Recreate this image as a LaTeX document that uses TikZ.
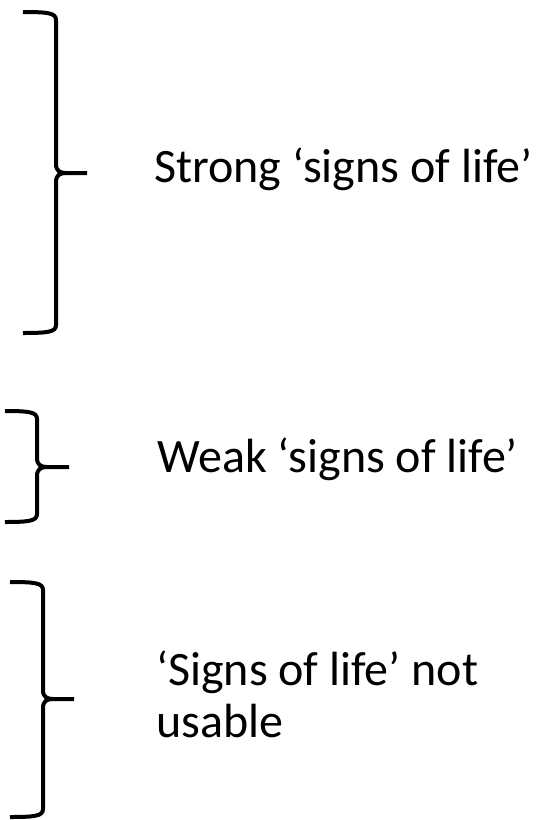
\documentclass[tikz,border=0pt]{standalone}
\usepackage{fontspec}
\setmainfont{Carlito}
\begin{document}
\begin{tikzpicture}[x=1pt,y=-1pt,
  bracket/.style={line width=4pt, line cap=butt, line join=round},
  label/.style={anchor=base west, inner sep=0pt, font=\fontsize{48}{52}\selectfont, align=left}]
\useasboundingbox (0,0) rectangle (539,820);
% right-facing curly brackets: left end x, spine x, tip x, top y, tip y, bottom y
\newcommand\curlybracket[6]{%
  \draw[bracket] (#1,#4) .. controls (#2-8,#4) and (#2,#4+1) .. (#2,#4+8)
    -- (#2,#5-9) .. controls (#2,#5-2) and (#2+4,#5) .. (#2+10,#5) -- (#3,#5);
  \draw[bracket] (#1,#6) .. controls (#2-8,#6) and (#2,#6-1) .. (#2,#6-8)
    -- (#2,#5+9) .. controls (#2,#5+2) and (#2+4,#5) .. (#2+10,#5);
}
\curlybracket{23}{56}{87}{12}{173}{333}
\curlybracket{5}{37}{69}{411}{467}{522}
\curlybracket{10}{43}{74}{582}{699}{817}

\node[label] (strong) at (154,182) {Strong ‘signs of life’};
\node[label] (weak) at (157,472) {Weak ‘signs of life’};
\node[label] (none) at (156,737) {‘Signs of life’ not\\usable};
\end{tikzpicture}
\end{document}
